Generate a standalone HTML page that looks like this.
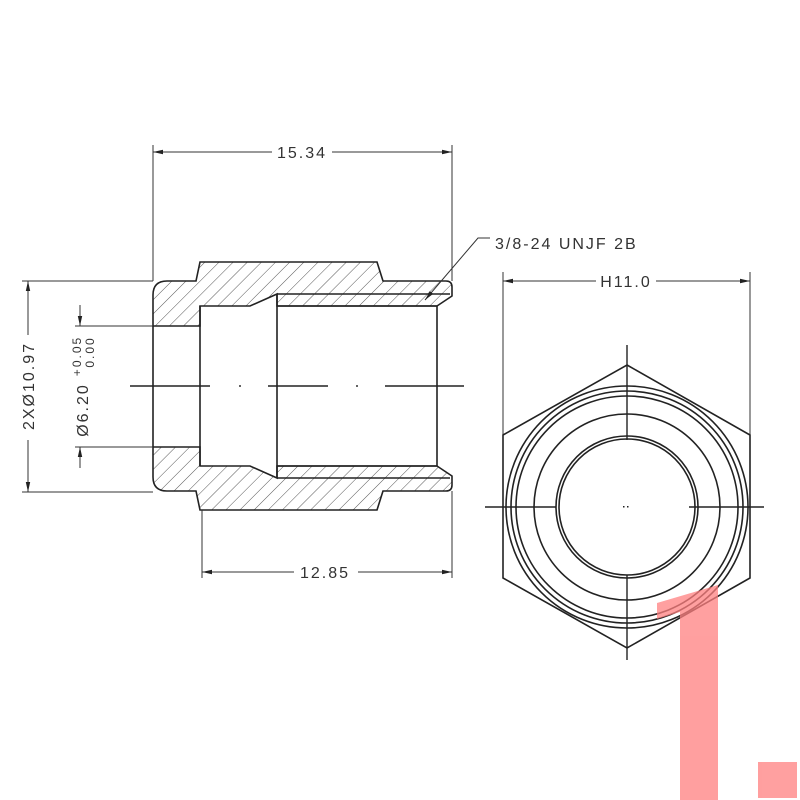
<!DOCTYPE html>
<html><head><meta charset="utf-8"><style>
html,body{margin:0;padding:0;background:#fff;}
svg{display:block;}
text{font-family:"Liberation Sans","DejaVu Sans",sans-serif;fill:#333;letter-spacing:2px;}
</style></head><body>
<svg width="800" height="800" viewBox="0 0 800 800" xmlns="http://www.w3.org/2000/svg">
<defs>
<pattern id="h" patternUnits="userSpaceOnUse" width="10" height="10" patternTransform="rotate(45)">
<line x1="0" y1="0" x2="0" y2="10" stroke="#444" stroke-width="0.9"/>
</pattern>
<marker id="a" markerWidth="10" markerHeight="6" refX="10" refY="3" orient="auto-start-reverse" markerUnits="userSpaceOnUse">
<path d="M0,0.8 L10,3 L0,5.2 Z" fill="#222"/>
</marker>
</defs>
<g stroke="#222" fill="none" stroke-width="1.6">
<path d="M200,262 L377,262 L383,281 L446,281 Q452,281 452,287 L452,296 L437,306 L437,306 L277,306 L277,294 L250,306 L200,306 L200,326 L153,326 L153,295 Q153,281 167,281 L196,281 Z" fill="url(#h)"/>
<path d="M200,510 L377,510 L383,491 L446,491 Q452,491 452,485 L452,476 L437,466 L277,466 L277,478 L250,466 L200,466 L200,447 L153,447 L153,477 Q153,491 167,491 L196,491 Z" fill="url(#h)"/>
<path d="M153,326 L153,447 M200,306 L200,466 M277,294 L277,478 M277,294 L450,294 M277,478 L450,478 M437,306 L437,466 M277,306 L437,306 M277,466 L437,466"/>
</g>
<g stroke="#222" stroke-width="1.4">
<line x1="130" y1="386" x2="210" y2="386"/>
<line x1="268" y1="386" x2="328" y2="386"/>
<line x1="385" y1="386" x2="464" y2="386"/>
<line x1="239" y1="386" x2="241" y2="386"/>
<line x1="356" y1="386" x2="358" y2="386"/>
<line x1="627" y1="345" x2="627" y2="440"/>
<line x1="627" y1="575" x2="627" y2="660"/>
<line x1="485" y1="507" x2="556" y2="507"/>
<line x1="689" y1="507" x2="764" y2="507"/>
</g>
<g stroke="#333" stroke-width="1" fill="none">
<line x1="153" y1="145" x2="153" y2="281"/>
<line x1="452" y1="145" x2="452" y2="281"/>
<line x1="153" y1="152" x2="272" y2="152" marker-start="url(#a)"/>
<line x1="332" y1="152" x2="452" y2="152" marker-end="url(#a)"/>
<line x1="202" y1="510" x2="202" y2="578"/>
<line x1="452" y1="491" x2="452" y2="578"/>
<line x1="202" y1="572" x2="294" y2="572" marker-start="url(#a)"/>
<line x1="358" y1="572" x2="452" y2="572" marker-end="url(#a)"/>
<line x1="22" y1="281" x2="153" y2="281"/>
<line x1="22" y1="492" x2="153" y2="492"/>
<line x1="28" y1="281" x2="28" y2="335" marker-start="url(#a)"/>
<line x1="28" y1="440" x2="28" y2="492" marker-end="url(#a)"/>
<line x1="75" y1="326" x2="153" y2="326"/>
<line x1="75" y1="447" x2="153" y2="447"/>
<line x1="80" y1="305" x2="80" y2="326" marker-end="url(#a)"/>
<line x1="80" y1="447" x2="80" y2="468" marker-start="url(#a)"/>
<line x1="503" y1="272" x2="503" y2="435"/>
<line x1="750" y1="272" x2="750" y2="435"/>
<line x1="503" y1="281" x2="596" y2="281" marker-start="url(#a)"/>
<line x1="656" y1="281" x2="750" y2="281" marker-end="url(#a)"/>
<path d="M490,238 L478,238 L425,300" marker-end="url(#a)"/>
</g>
<g font-size="16">
<text x="302" y="158" text-anchor="middle">15.34</text>
<text x="325" y="578" text-anchor="middle">12.85</text>
<text x="626" y="287" text-anchor="middle">H11.0</text>
<text x="495" y="249" letter-spacing="3.2">3/8-24 UNJF 2B</text>
<text transform="translate(34,386) rotate(-90)" text-anchor="middle">2XØ10.97</text>
<text transform="translate(88,410) rotate(-90)" text-anchor="middle">Ø6.20</text>
<text transform="translate(81,356) rotate(-90)" font-size="12" letter-spacing="1" text-anchor="middle">+0.05</text>
<text transform="translate(94,352) rotate(-90)" font-size="12" letter-spacing="1" text-anchor="middle">0.00</text>
</g>
<g stroke="#222" stroke-width="1.6" fill="none">
<polygon points="627,365 750,435 750,578 627,648 503,578 503,435"/>
<circle cx="627" cy="507" r="121"/>
<circle cx="627" cy="507" r="116"/>
<circle cx="627" cy="507" r="111"/>
<circle cx="627" cy="507" r="93"/>
<circle cx="627" cy="507" r="71"/>
<circle cx="627" cy="507" r="68"/>
</g>
<rect x="623" y="506" width="1.5" height="1.5" fill="#222"/><rect x="627" y="506" width="1.5" height="1.5" fill="#222"/>
<g fill="#ff8080" opacity="0.75">
<polygon points="657,603 718,585 718,800 680,800 680,612 657,619"/>
<rect x="758" y="762" width="39" height="36"/>
</g>
</svg>
</body></html>
